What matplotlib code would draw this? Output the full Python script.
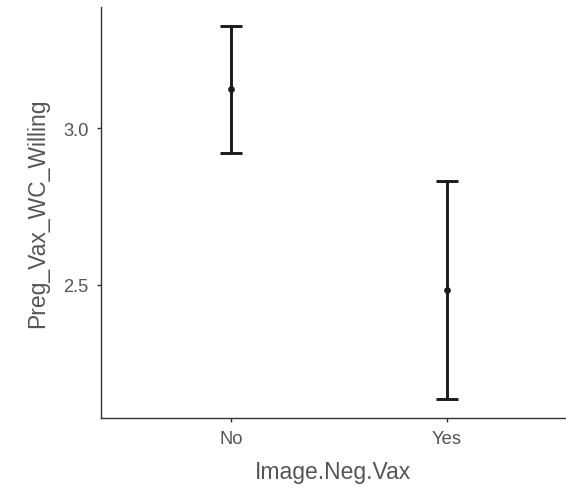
import matplotlib
matplotlib.use("Agg")
import matplotlib.pyplot as plt

plt.rcParams["font.family"] = ["Liberation Sans", "DejaVu Sans"]

# group means with their confidence limits
groups = ["No", "Yes"]
means = [3.125, 2.484]
lower = [2.920, 2.136]
upper = [3.327, 2.832]
yticks = [2.5, 3.0]

fig = plt.figure(figsize=(5.66, 4.89), dpi=100)
ax = fig.add_axes([0.1784, 0.1438, 0.8216, 0.84])

x = list(range(1, len(groups) + 1))
err = [[m - lo for m, lo in zip(means, lower)],
       [hi - m for m, hi in zip(means, upper)]]
ax.errorbar(x, means, yerr=err, fmt="o", color="#1a1a1a", ms=3.8,
            elinewidth=2.1, capsize=7.9, capthick=2.1)

ax.set_xlim(0.397, 2.553)
ax.set_ylim(2.0766, 3.387)
ax.set_xticks(x)
ax.set_xticklabels(groups)
ax.set_yticks(yticks)
ax.set_yticklabels([f"{v:.1f}" for v in yticks])

for side in ("top", "right"):
    ax.spines[side].set_visible(False)
for side in ("left", "bottom"):
    ax.spines[side].set_color("#333333")
    ax.spines[side].set_linewidth(1.0)
ax.tick_params(colors="#333333", labelcolor="#555555", labelsize=13.2,
               length=3, width=1.0, pad=6)

ax.set_xlabel("Image.Neg.Vax", fontsize=16.5, color="#555555", labelpad=9)
ax.set_ylabel("Preg_Vax_WC_Willing", fontsize=16.5, color="#555555",
              labelpad=10)

fig.savefig("out.png", dpi=100, facecolor="white")
